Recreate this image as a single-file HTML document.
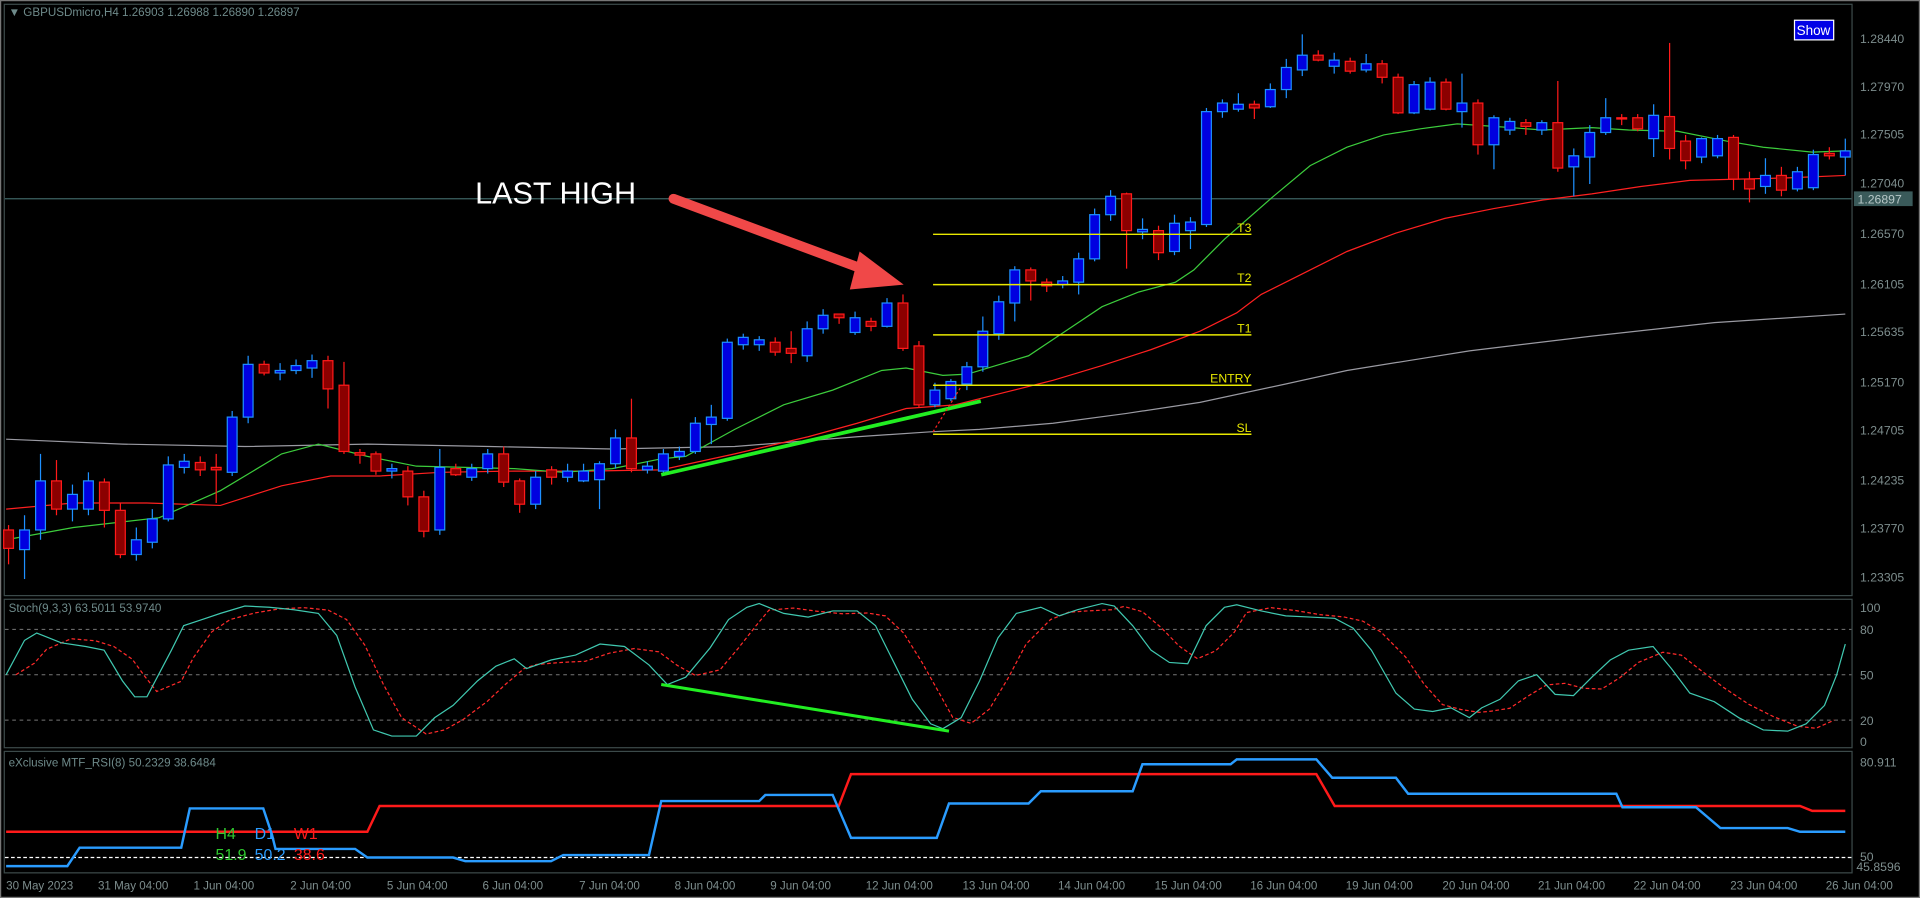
<!DOCTYPE html>
<html><head><meta charset="utf-8"><style>
html,body{margin:0;padding:0;background:#000;width:1920px;height:898px;overflow:hidden}
svg{display:block}
text{font-family:"Liberation Sans",sans-serif}
</style></head><body>
<svg id="s" width="1920" height="898" viewBox="0 0 1568 732" preserveAspectRatio="none" xmlns="http://www.w3.org/2000/svg">
<rect x="0" y="0" width="1568" height="732" fill="#000"/>
<rect x="0.5" y="0.5" width="1567" height="731" fill="none" stroke="#777" stroke-width="1"/>
<g fill="none" stroke="#3c4a4a" stroke-width="1">
<rect x="3.5" y="3.5" width="1509" height="482"/>
<rect x="3.5" y="488.5" width="1509" height="121"/>
<rect x="3.5" y="612.5" width="1509" height="99"/>
</g>
<text x="7" y="13" font-size="9.5" fill="#6e8a8a">▼ GBPUSDmicro,H4  1.26903 1.26988 1.26890 1.26897</text>
<g font-size="10" fill="#7d8d8d" id="pax">
<text x="1519" y="35">1.28440</text><text x="1519" y="74">1.27970</text><text x="1519" y="113">1.27505</text>
<text x="1519" y="153">1.27040</text><text x="1519" y="194">1.26570</text><text x="1519" y="235">1.26105</text>
<text x="1519" y="274">1.25635</text><text x="1519" y="315">1.25170</text><text x="1519" y="354">1.24705</text>
<text x="1519" y="395">1.24235</text><text x="1519" y="434">1.23770</text><text x="1519" y="474">1.23305</text>
<text x="1519" y="499">100</text><text x="1519" y="517">80</text><text x="1519" y="554">50</text>
<text x="1519" y="591">20</text><text x="1519" y="608">0</text>
<text x="1519" y="625">80.911</text><text x="1519" y="702">50</text><text x="1516" y="710">45.8596</text>
</g>
<line x1="4" y1="162" x2="1512" y2="162" stroke="#3d6363" stroke-width="1"/>
<rect x="1514" y="156" width="48" height="12" fill="#3a5a5a"/>
<text x="1517" y="166" font-size="10" fill="#b8c8c8">1.26897</text>
<g id="main"></g>
<g stroke="#e8e800" stroke-width="1.2">
<line x1="762" y1="191" x2="1022" y2="191"/><line x1="762" y1="232" x2="1022" y2="232"/>
<line x1="762" y1="273" x2="1022" y2="273"/><line x1="762" y1="314" x2="1022" y2="314"/>
<line x1="762" y1="354" x2="1022" y2="354"/>
</g>
<g font-size="10" fill="#e8e800" text-anchor="end">
<text x="1022" y="189">T3</text><text x="1022" y="230">T2</text><text x="1022" y="271">T1</text>
<text x="1022" y="312">ENTRY</text><text x="1022" y="352">SL</text>
</g>
<line x1="540" y1="387" x2="801" y2="327" stroke="#22ee22" stroke-width="3"/>
<line x1="762" y1="352" x2="785" y2="315" stroke="#f22" stroke-width="1" stroke-dasharray="2,2"/>
<line x1="550" y1="162" x2="712" y2="222" stroke="#f04848" stroke-width="8" stroke-linecap="round"/>
<polygon points="738,232 702,205 694,236" fill="#f04848"/>
<text x="388" y="166" font-size="25" fill="#fff">LAST HIGH</text>
<rect x="1465.5" y="16.5" width="32" height="16" fill="#0000e6" stroke="#fff" stroke-width="1"/>
<text x="1481" y="28.5" font-size="11" fill="#fff" text-anchor="middle">Show</text>
<text x="7" y="499" font-size="9.5" fill="#6e8a8a">Stoch(9,3,3) 63.5011 53.9740</text>
<g stroke="#777" stroke-width="0.8" stroke-dasharray="3,3">
<line x1="4" y1="513" x2="1512" y2="513"/><line x1="4" y1="550" x2="1512" y2="550"/><line x1="4" y1="587" x2="1512" y2="587"/>
</g>
<g id="stoch"></g>
<line x1="540" y1="558" x2="775" y2="596" stroke="#22ee22" stroke-width="2.5"/>
<text x="7" y="625" font-size="9.5" fill="#6e8a8a">eXclusive MTF_RSI(8) 50.2329 38.6484</text>
<line x1="4" y1="699" x2="1512" y2="699" stroke="#fff" stroke-width="1" stroke-dasharray="3,2"/>
<polyline fill="none" stroke="#ff1a1a" stroke-width="2" points="5,678 300,678 310,657 685,657 695,631 1075,631 1090,657 1470,657 1480,661 1507,661"/>
<polyline fill="none" stroke="#2a9cff" stroke-width="2" points="5,706 55,706 65,691 148,691 155,659 215,659 222,680 225,692 290,692 300,699 370,699 380,702 450,702 460,697 530,697 540,653 620,653 625,648 680,648 695,683 765,683 775,655 840,655 850,645 925,645 933,623 1005,623 1010,619 1075,619 1088,634 1140,634 1150,647 1320,647 1325,658 1385,658 1405,675 1460,675 1470,678 1507,678"/>
<g font-size="13">
<text x="176" y="684" fill="#2ec82e">H4</text><text x="208" y="684" fill="#2a9cff">D1</text><text x="240" y="684" fill="#ff1a1a">W1</text>
<text x="176" y="701" fill="#2ec82e">51.9</text><text x="208" y="701" fill="#2a9cff">50.2</text><text x="240" y="701" fill="#ff1a1a">38.6</text>
</g>
<g font-size="9.5" fill="#7d8d8d" id="tax">
<text x="5" y="725">30 May 2023</text><text x="80" y="725">31 May 04:00</text><text x="158" y="725">1 Jun 04:00</text>
<text x="237" y="725">2 Jun 04:00</text><text x="316" y="725">5 Jun 04:00</text><text x="394" y="725">6 Jun 04:00</text>
<text x="473" y="725">7 Jun 04:00</text><text x="551" y="725">8 Jun 04:00</text><text x="629" y="725">9 Jun 04:00</text>
<text x="707" y="725">12 Jun 04:00</text><text x="786" y="725">13 Jun 04:00</text><text x="864" y="725">14 Jun 04:00</text>
<text x="943" y="725">15 Jun 04:00</text><text x="1021" y="725">16 Jun 04:00</text><text x="1099" y="725">19 Jun 04:00</text>
<text x="1178" y="725">20 Jun 04:00</text><text x="1256" y="725">21 Jun 04:00</text><text x="1334" y="725">22 Jun 04:00</text>
<text x="1413" y="725">23 Jun 04:00</text><text x="1491" y="725">26 Jun 04:00</text>
</g>
</svg>
<script>
(function(){
var NS="http://www.w3.org/2000/svg";
function el(p,t,a){var e=document.createElementNS(NS,t);for(var k in a)e.setAttribute(k,a[k]);p.appendChild(e);return e;}
var m=document.getElementById('main');
function pl(pts,c,w,d){el(m,'polyline',{points:pts,fill:'none',stroke:c,'stroke-width':w||1,'stroke-dasharray':d||'none'});}
pl("5,358 100,362 200,364 300,362 400,364 500,366 600,364 700,356 760,352 800,350 860,345 920,337 980,328 1050,313 1100,302 1150,294 1200,286 1300,274 1400,263 1507,256","#9a9aa2",1);
pl("5,415 60,410 120,410 180,412 230,396 270,388 310,388 360,385 420,384 480,384 540,383 600,370 660,356 700,345 740,333 780,330 820,320 860,310 900,298 940,285 980,270 1010,255 1030,240 1060,225 1100,205 1140,190 1180,178 1220,170 1260,163 1300,158 1340,152 1380,147 1420,146 1460,145 1507,143","#ff2020",1);
pl("5,440 60,430 130,422 180,400 230,370 260,362 300,372 340,380 380,381 420,382 460,385 500,382 540,374 560,372 600,350 640,330 680,318 720,302 740,300 770,306 790,305 840,290 870,270 900,250 930,238 960,230 975,220 1000,195 1040,160 1070,135 1100,120 1130,110 1160,105 1190,101 1220,103 1260,106 1300,104 1330,106 1370,107 1410,115 1440,120 1480,124 1507,123","#3ccc3c",1);
// [color(1=bull,0=bear), bodyTop, bodyBot, wickTop, wickBot]
var C=[[0,432,447,428,460],[1,432,448,420,472],[1,392,432,370,440],[0,392,415,375,420],[1,403,415,395,425],[1,392,415,385,420],[0,393,416,390,430],[0,416,452,410,455],[1,440,452,430,457],[1,423,442,415,447],
[1,379,423,372,425],[1,376,381,370,386],[0,377,383,372,388],[0,381,383,370,410],[1,340,385,335,388],[1,297,340,290,345],[0,297,304,294,306],[1,302,304,296,310],[1,298,302,293,305],[1,294,300,289,308],
[0,294,317,290,333],[0,314,368,295,370],[0,369,371,366,378],[0,370,384,368,387],[1,382,384,378,390],[0,384,405,380,412],[0,405,433,400,438],[1,381,432,366,436],[0,382,387,378,388],[1,382,389,378,392],
[1,370,382,366,386],[0,370,393,364,397],[0,392,411,390,418],[1,389,411,384,415],[0,383,389,380,395],[1,384,389,378,393],[1,384,392,378,393],[1,378,391,376,415],[1,357,378,350,382],[0,357,382,325,385],
[1,380,383,376,386],[1,370,384,366,388],[1,368,372,364,375],[1,345,368,340,370],[1,340,346,330,362],[1,279,341,276,343],[1,275,281,272,285],[1,277,281,274,286],[0,279,287,275,290],[0,284,288,270,296],
[1,268,290,262,295],[1,257,268,252,272],[0,256,259,256,264],[1,259,271,254,273],[0,262,266,259,270],[1,247,266,243,267],[0,247,284,240,286],[0,282,330,278,332],[1,318,330,312,332],[1,311,325,309,327],
[1,299,313,295,318],[1,270,299,258,303],[1,246,272,241,277],[1,220,247,217,262],[0,220,229,218,245],[0,230,233,227,238],[1,229,232,225,235],[1,211,230,206,240],[1,175,211,170,213],[1,160,175,155,180],
[0,158,188,157,219],[1,187,189,178,195],[0,188,206,184,212],[1,182,205,175,208],[1,181,188,177,203],[1,91,183,88,185],[1,84,91,81,96],[1,85,89,76,91],[0,85,88,82,97],[1,73,87,68,88],
[1,55,73,48,80],[1,45,57,28,62],[0,45,49,41,50],[1,49,54,43,60],[0,50,58,47,60],[1,52,57,44,59],[0,52,63,49,68],[0,63,92,60,93],[1,69,92,66,93],[1,67,89,63,90],
[0,67,89,64,90],[1,84,91,60,104],[0,84,118,81,126],[1,96,118,94,138],[1,99,106,96,110],[0,100,103,97,110],[1,100,106,98,110],[0,100,137,66,140],[1,127,136,121,160],[1,108,128,102,150],
[1,96,108,80,110],[0,96,97,93,102],[0,96,105,93,107],[1,94,113,85,128],[0,95,121,35,130],[0,115,131,110,138],[1,113,128,112,133],[1,113,127,110,129],[0,112,146,110,155],[0,146,154,140,165],
[1,143,152,129,158],[0,143,155,136,160],[1,140,154,136,156],[1,126,153,122,155],[0,125,127,120,130],[1,123,128,113,143]];
var n=C.length,sp=(1507-7)/(n-1);
for(var i=0;i<n;i++){var c=C[i],x=7+sp*i,st=c[0]?'#1e90ff':'#ff1a1a',f=c[0]?'#0000e0':'#8b0000';
el(m,'line',{x1:x,y1:c[3],x2:x,y2:c[4],stroke:st,'stroke-width':1});
var h=Math.max(c[2]-c[1],1);
el(m,'rect',{x:x-4,y:c[1],width:8,height:h,fill:f,stroke:st,'stroke-width':1});}
var s=document.getElementById('stoch');
var K="5,550 20,522 30,516 50,524 70,527 85,530 100,555 110,568 120,568 140,530 150,510 165,505 180,500 200,494 220,495 240,497 260,500 275,518 290,560 305,595 320,600 340,600 355,585 370,575 390,555 405,543 420,537 430,545 450,538 470,534 490,525 510,527 530,542 545,558 560,552 580,528 595,505 610,495 620,492 640,500 660,503 680,498 700,498 715,510 730,540 745,570 760,590 770,594 785,585 800,555 815,520 830,500 850,495 865,502 880,497 900,492 910,494 925,510 940,530 955,540 970,541 985,510 1000,495 1010,493 1030,498 1050,502 1070,503 1090,504 1105,512 1120,530 1140,565 1155,578 1170,580 1185,577 1200,585 1210,577 1225,570 1240,555 1255,550 1270,566 1285,567 1300,552 1315,538 1330,530 1350,527 1365,545 1380,565 1400,572 1420,585 1440,595 1460,596 1475,590 1490,575 1500,550 1507,525";
var pts=K.split(' ').map(function(p){var a=p.split(',');return [+a[0],+a[1]];});
var D=[];for(var j=0;j<pts.length;j++){var a=pts[Math.max(0,j-1)],b=pts[Math.max(0,j-2)];D.push([pts[j][0]+8,(pts[j][1]+a[1]+b[1])/3]);}
el(s,'polyline',{points:D.filter(function(p){return p[0]<=1507;}).map(function(p){return p.join(',');}).join(' '),fill:'none',stroke:'#ff2a2a','stroke-width':1,'stroke-dasharray':'3,2'});
el(s,'polyline',{points:K,fill:'none',stroke:'#40c8b0','stroke-width':1});
})();
</script>
</body></html>
